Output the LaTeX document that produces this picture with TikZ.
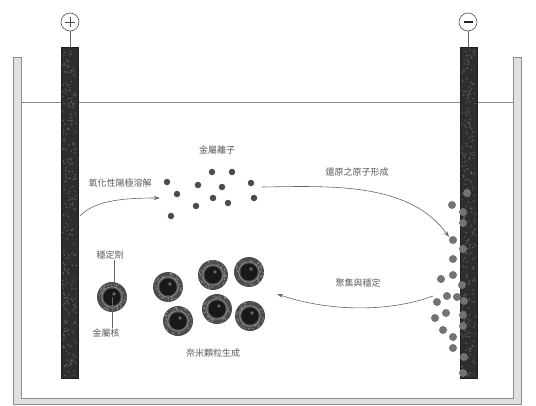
\documentclass[tikz,border=0pt]{standalone}
\usepackage{fontspec}
\newfontfamily\cjk{Noto Sans CJK TC}
\usetikzlibrary{arrows.meta,calc}
\begin{document}
\begin{tikzpicture}[x=1pt,y=-1pt,
  wall/.style={draw=black!45,fill=black!12,line width=0.5pt},
  electrode/.style={fill=black!82,draw=black!88,line width=0.4pt},
  terminal/.style={circle,draw=black!70,line width=0.6pt,minimum size=18pt,inner sep=0pt,fill=white},
  lbl/.style={font=\cjk\fontsize{9}{10}\selectfont,text=black!65,inner sep=1pt},
  ion/.style={circle,fill=black!70,inner sep=0pt,minimum size=6.5pt},
  atom/.style={circle,fill=black!55,inner sep=0pt,minimum size=8pt},
  flow/.style={draw=black!60,line width=0.6pt,-{Stealth[length=6pt,width=4pt]}},
  leader/.style={draw=black!60,line width=0.6pt}]
\useasboundingbox (0,0) rectangle (536,405);

% tank walls, bottom and liquid level
\fill[black!12] (13,57) rectangle (21,404);
\fill[black!12] (513,57) rectangle (521,404);
\fill[black!12] (13,398) rectangle (521,404);
\draw[black!45,line width=0.5pt] (21,57) -- (21,398) -- (513,398) -- (513,57) -- (521,57)
  -- (521,404) -- (13,404) -- (13,57) -- cycle;
\draw[black!45,line width=0.5pt] (21,102) -- (513,102);

% electrodes with a speckled surface
\pgfmathsetseed{7}
\foreach \ex in {61,460}{
  \draw[electrode] (\ex,47) rectangle ++(17,331);
  \foreach \k in {1,...,260}{
    \pgfmathsetmacro{\px}{\ex+1.5+14*rnd}
    \pgfmathsetmacro{\py}{49+327*rnd}
    \fill[black!62] (\px,\py) circle (0.8);
  }
}
\node[terminal] (plus) at (70,22) {};
\draw[black!70,line width=0.8pt] (65,22) -- (75,22) (70,17) -- (70,27);
\node[terminal] (minus) at (468,22) {};
\draw[black!85,line width=1.6pt] (463.5,22) -- (472.5,22);
\coordinate (ptop) at (70,47);
\coordinate (mtop) at (468,47);
\draw[black!60,line width=0.6pt] (plus) -- (ptop);
\draw[black!60,line width=0.6pt] (minus) -- (mtop);

% metal ions in solution
\foreach \p [count=\i] in {(167,182),(177,194),(171,216),(198,185),(212,172),(232,172),
  (222,187),(251,183),(213,198),(228,203),(254,198),(196,206)}
  \node[ion] (ion\i) at \p {};

% atoms gathering at the cathode
\foreach \p [count=\i] in {(467,193),(452,205),(463,212),(463,223),(453,240),(463,249),
  (453,259),(441,279),(453,275),(462,285),(447,296),(437,302),(457,297),(464,301),
  (446,313),(435,318),(463,315),(463,326),(443,330),(453,337),(453,348),(464,357),(463,373)}
  \node[atom] (atom\i) at \p {};

% nanoparticles: speckled stabilizer shell, light ring, metal core
\pgfmathsetseed{11}
\foreach \p/\n in {(112,297)/np0,(168,287)/np1,(178,321)/np2,(213,275)/np3,
  (249,272)/np4,(217,309)/np5,(250,316)/np6}{
  \node[circle,minimum size=30pt,inner sep=0pt,fill=black!70] (\n) at \p {};
  \foreach \k in {1,...,40}{
    \pgfmathsetmacro{\ang}{360*rnd}
    \pgfmathsetmacro{\rad}{11+3.5*rnd}
    \fill[black!45] ($(\n.center)+(\ang:\rad)$) circle (0.7);
  }
  \draw[black!45,line width=0.8pt] (\n.center) circle (10.3);
  \fill[black!90] (\n.center) circle (8.5);
  \fill[black!60] ($(\n.center)+(2,-3)$) circle (1.8);
}

% labels
\node[lbl] (dissolve) at (120,183) {氧化性陽極溶解};
\node[lbl] (ions) at (217,150) {金屬離子};
\node[lbl] (reduce) at (357,172) {還原之原子形成};
\node[lbl] (grow) at (358,283) {聚集與穩定};
\node[lbl] (stab) at (110,255) {穩定劑};
\node[lbl] (core) at (106,333) {金屬核};
\node[lbl] (form) at (213,353) {奈米顆粒生成};

\draw[leader] (stab.south -| 114,0) -- (114,283);
\draw[leader] (np0.center) -- (core.north -| np0.center);

% process arrows
\coordinate (a1s) at (80,216);
\coordinate (a1e) at (160,198);
\draw[flow] (a1s) .. controls (95,200) and (125,198) .. (a1e);
\coordinate (a2s) at (262,187);
\coordinate (a2e) at (449,237);
\draw[flow] (a2s) .. controls (330,186) and (410,182) .. (a2e);
\coordinate (a3s) at (433,296);
\coordinate (a3e) at (277,294);
\draw[flow] (a3s) .. controls (390,312) and (330,312) .. (a3e);
\end{tikzpicture}
\end{document}
